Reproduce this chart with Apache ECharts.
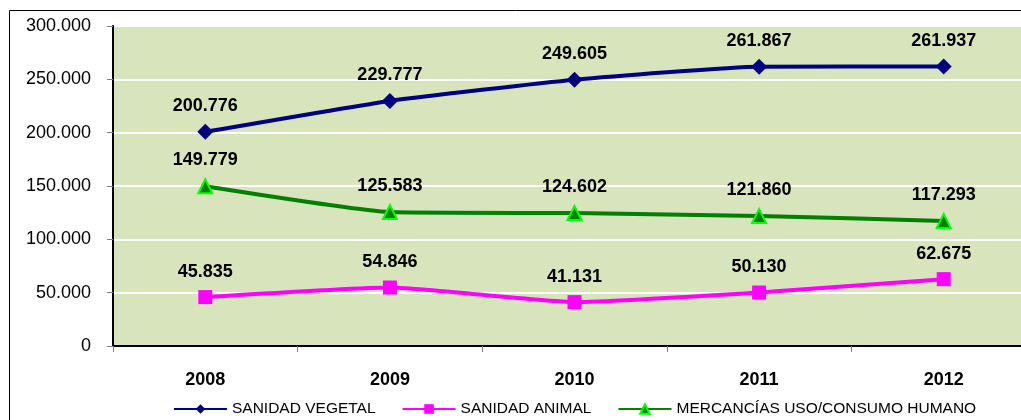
<!DOCTYPE html>
<html>
<head>
<meta charset="utf-8">
<script src="https://cdn.jsdelivr.net/npm/echarts@6/dist/echarts.min.js"></script>
<style>
  html, body { margin: 0; padding: 0; background: #fff; }
  #chart { width: 1021px; height: 420px; }
</style>
</head>
<body>
<div id="chart"></div>
<script>
// datos
var years = ['2008', '2009', '2010', '2011', '2012'];
var sanidadVegetal = [200776, 229777, 249605, 261867, 261937];
var sanidadAnimal = [45835, 54846, 41131, 50130, 62675];
var mercancias = [149779, 125583, 124602, 121860, 117293];

// separador de miles con punto
function fmt(n) {
    return String(n).replace(/\B(?=(\d{3})+(?!\d))/g, '.');
}

var labelStyle = {
    show: true,
    position: 'top',
    distance: 9,
    fontFamily: 'Liberation Sans, Arial',
    fontSize: 18,
    fontWeight: 'bold',
    color: '#000',
    formatter: function (p) { return fmt(p.value); }
};

var myChart = echarts.init(document.getElementById('chart'));
var option = {
    animation: false,
    textStyle: { fontFamily: 'Liberation Sans, Arial' },
    graphic: [
        {
            type: 'rect',
            shape: { x: 9.5, y: 10.5, width: 1030, height: 430 },
            style: { fill: 'none', stroke: '#000', lineWidth: 1 },
            z: -10
        }
    ],
    grid: {
        left: 113,
        top: 26,
        width: 923,
        height: 320,
        outerBoundsMode: 'none',
        containLabel: false,
        show: true,
        backgroundColor: '#D8E4BC',
        borderColor: '#808080',
        borderWidth: 2
    },
    legend: {
        left: 173,
        top: 401,
        padding: 0,
        itemWidth: 53,
        itemHeight: 12,
        itemGap: 26,
        textStyle: { fontSize: 15.5, color: '#000', fontFamily: 'Liberation Sans, Arial' },
        data: ['SANIDAD VEGETAL', 'SANIDAD ANIMAL', 'MERCANCÍAS USO/CONSUMO HUMANO']
    },
    xAxis: {
        type: 'category',
        data: years,
        boundaryGap: true,
        axisLine: { lineStyle: { color: '#000', width: 2 } },
        axisTick: { show: true, length: 6, lineStyle: { color: '#808080' } },
        axisLabel: { fontSize: 18, fontWeight: 'bold', color: '#000', margin: 25 }
    },
    yAxis: {
        type: 'value',
        min: 0,
        max: 300000,
        interval: 50000,
        axisLine: { show: true, lineStyle: { color: '#000', width: 2 } },
        axisTick: { show: true, length: 6, lineStyle: { color: '#808080' } },
        axisLabel: {
            fontSize: 18,
            color: '#000',
            margin: 22,
            formatter: function (v) { return fmt(v); }
        },
        splitLine: { show: true, lineStyle: { color: '#fff', width: 2 } }
    },
    series: [
        {
            name: 'SANIDAD VEGETAL',
            type: 'line',
            data: sanidadVegetal,
            smooth: 0.15,
            symbol: 'diamond',
            symbolSize: 16,
            lineStyle: { color: '#000080', width: 4 },
            itemStyle: { color: '#000080' },
            label: labelStyle
        },
        {
            name: 'SANIDAD ANIMAL',
            type: 'line',
            data: sanidadAnimal,
            smooth: 0.15,
            symbol: 'rect',
            symbolSize: 14,
            lineStyle: { color: '#FF00FF', width: 4 },
            itemStyle: { color: '#FF00FF' },
            label: labelStyle
        },
        {
            name: 'MERCANCÍAS USO/CONSUMO HUMANO',
            type: 'line',
            data: mercancias,
            smooth: 0.15,
            symbol: 'triangle',
            symbolSize: 14,
            lineStyle: { color: '#008000', width: 4 },
            itemStyle: { color: '#008000', borderColor: '#00FF00', borderWidth: 2 },
            label: labelStyle
        }
    ]
};
option && myChart.setOption(option);
</script>
</body>
</html>
